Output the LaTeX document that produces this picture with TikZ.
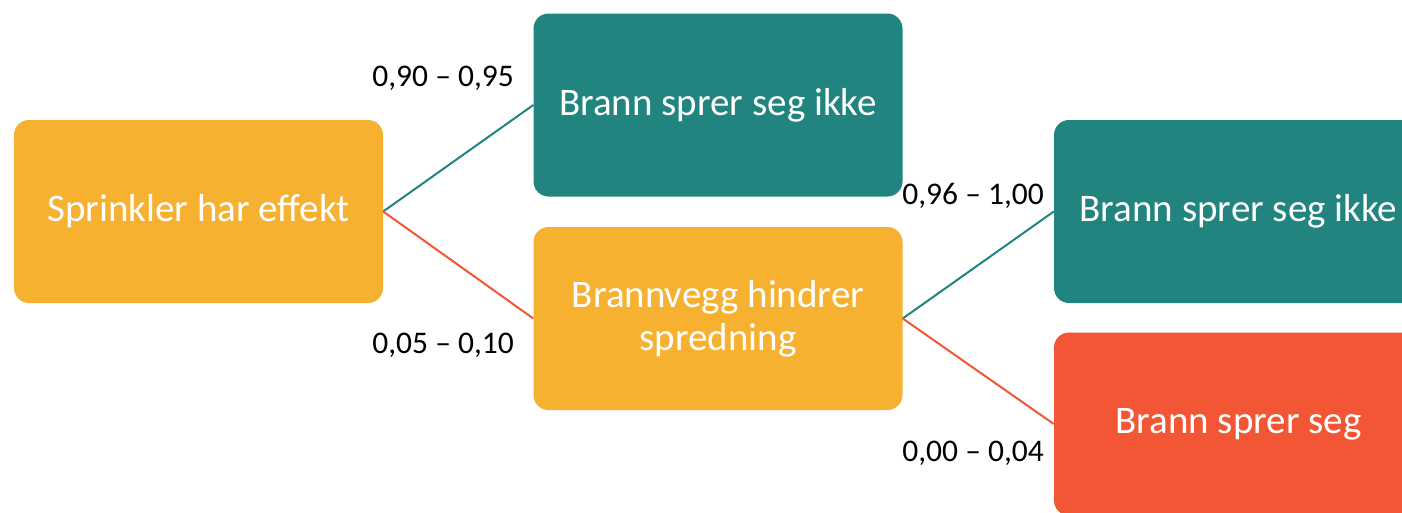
\documentclass[tikz,border=0pt]{standalone}
\usepackage{fontspec}
\setmainfont{Carlito}
\definecolor{sunorange}{RGB}{246,177,49}
\definecolor{tealbox}{RGB}{33,132,127}
\definecolor{firered}{RGB}{243,86,52}
\tikzset{
  eventbox/.style={rectangle, rounded corners=15pt, minimum width=369pt,
    minimum height=183pt, inner sep=0pt, text=white, align=center,
    font=\fontsize{39}{43}\selectfont},
  problabel/.style={anchor=east, inner sep=0pt, text=black,
    font=\fontsize{31.5}{36}\selectfont},
  branch/.style={line width=2pt},
}
\begin{document}
\begin{tikzpicture}[x=1pt,y=-1pt]
  \useasboundingbox (0,0) rectangle (1402,512);
  \clip (0,0) rectangle (1402,512);
  % events
  \node[eventbox, fill=sunorange] (sprinkler) at (198.5,211.5) {Sprinkler har effekt};
  \node[eventbox, fill=tealbox] (stopA) at (718,105) {Brann sprer seg ikke};
  \node[eventbox, fill=sunorange] (wall) at (718,318.5) {Brannvegg hindrer\\spredning};
  \node[eventbox, fill=tealbox] (stopB) at (1238.5,211.5) {Brann sprer seg ikke};
  \node[eventbox, fill=firered] (spread) at (1238.5,424) {Brann sprer seg};
  % branches
  \draw[branch, tealbox] (sprinkler.east) -- (stopA.west);
  \draw[branch, firered] (sprinkler.east) -- (wall.west);
  \draw[branch, tealbox] (wall.east) -- (stopB.west);
  \draw[branch, firered] (wall.east) -- (spread.west);
  % probabilities
  \node[problabel] (pA) at (514,78) {0,90 – 0,95};
  \node[problabel] (pB) at (514,345) {0,05 – 0,10};
  \node[problabel] (pC) at (1044,196) {0,96 – 1,00};
  \node[problabel] (pD) at (1044,453) {0,00 – 0,04};
\end{tikzpicture}
\end{document}
